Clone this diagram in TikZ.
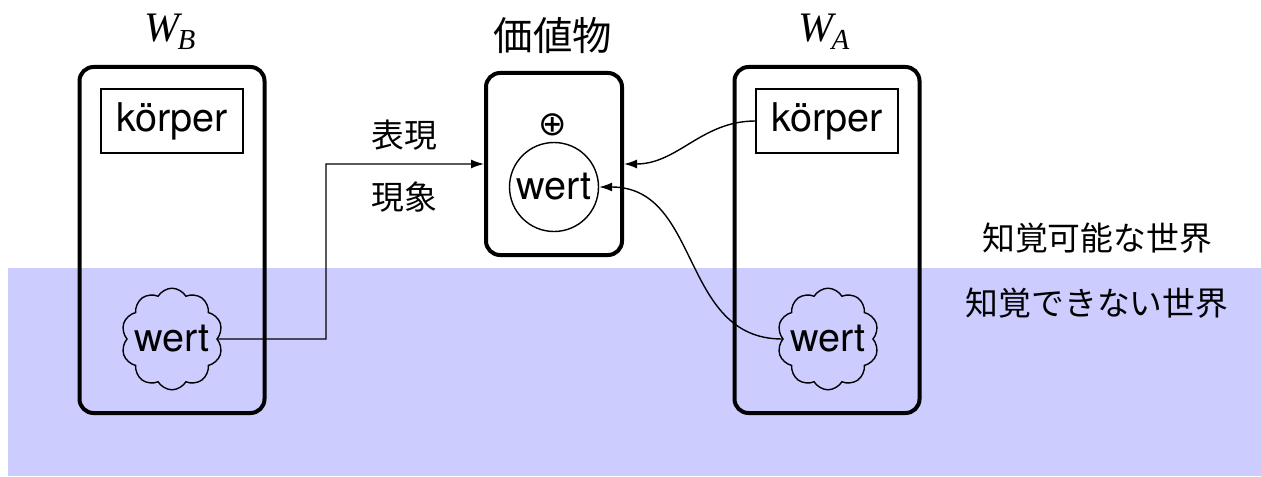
\documentclass[tikz,border=0pt]{standalone}
\usepackage{fontspec}
\setmainfont{Liberation Serif}
\newfontfamily\hv{TeX Gyre Heros}
\newfontfamily\jp{Noto Sans CJK JP}
\newfontfamily\dejavu{DejaVu Sans}
\usetikzlibrary{shapes.symbols,arrows.meta}
\definecolor{bandblue}{RGB}{204,204,255}
\begin{document}
\begin{tikzpicture}[x=0.5pt,y=-0.5pt,
  world/.style={draw,line width=2pt,rounded corners=7pt,minimum width=92.5pt,minimum height=173pt,inner sep=0pt},
  midbox/.style={draw,line width=2pt,rounded corners=7pt,minimum width=68pt,minimum height=91pt,inner sep=0pt},
  kbox/.style={draw,line width=0.6pt,fill=white,minimum width=71pt,minimum height=32pt,inner sep=0pt,font=\hv\fontsize{19.8}{20}\selectfont},
  cloudn/.style={cloud,draw,cloud puffs=10,cloud puff arc=120,aspect=1,line width=0.7pt,inner sep=-3pt,font=\hv\fontsize{19.8}{20}\selectfont},
  wcirc/.style={circle,draw,line width=0.7pt,minimum size=44.5pt,inner sep=0pt,font=\hv\fontsize{19.8}{20}\selectfont},
  conn/.style={line width=0.7pt,-{Latex[length=6.5pt,width=4.5pt]}},
  title/.style={inner sep=0pt},
  jlabel/.style={inner sep=0pt,font=\jp\fontsize{16.4}{17}\selectfont},
  jtitle/.style={inner sep=0pt,font=\jp\fontsize{19.7}{20}\selectfont}
]
\useasboundingbox (0,0) rectangle (1261,476);
\fill[bandblue] (8,268) rectangle (1261,476);

% world boxes
\node[world] (wb) at (172,240) {};
\node[world] (wa) at (827,240) {};
\node[midbox] (mid) at (554,164) {};

% titles
\node[title] (tb) at (170,32) {\fontsize{21}{21}\selectfont\itshape W\kern-1pt\raisebox{-4pt}{\fontsize{14.5}{14.5}\selectfont B}};
\node[title] (ta) at (824,32) {\fontsize{21}{21}\selectfont\itshape W\kern-1pt\raisebox{-4pt}{\fontsize{14.5}{14.5}\selectfont A}};
\node[jtitle] (tm) at (553,36) {価値物};

% contents
\node[kbox] (kb) at (172,121) {körper};
\node[kbox] (ka) at (827,121) {körper};
\node[cloudn] (cb) at (172,339) {wert};
\node[cloudn] (ca) at (828,339) {wert};
\node[inner sep=0pt,font=\dejavu\fontsize{17}{17}\selectfont] (op) at (553,125) {⊕};
\node[wcirc] (wc) at (554,187) {wert};

% labels
\node[jlabel] (l1) at (404,135) {表現};
\node[jlabel] (l2) at (404,197) {現象};
\node[jlabel] (l3) at (1097,238) {知覚可能な世界};
\node[jlabel] (l4) at (1097,303) {知覚できない世界};

% connectors
\coordinate (turn) at (326,339);
\draw[conn] (cb.east) -- (turn) |- (mid.west);
\draw[conn] (ka.west) to[out=180,in=0] (mid.east);
\draw[conn] (ca.west) to[out=180,in=0,looseness=1.1] (wc.east);
\end{tikzpicture}
\end{document}
